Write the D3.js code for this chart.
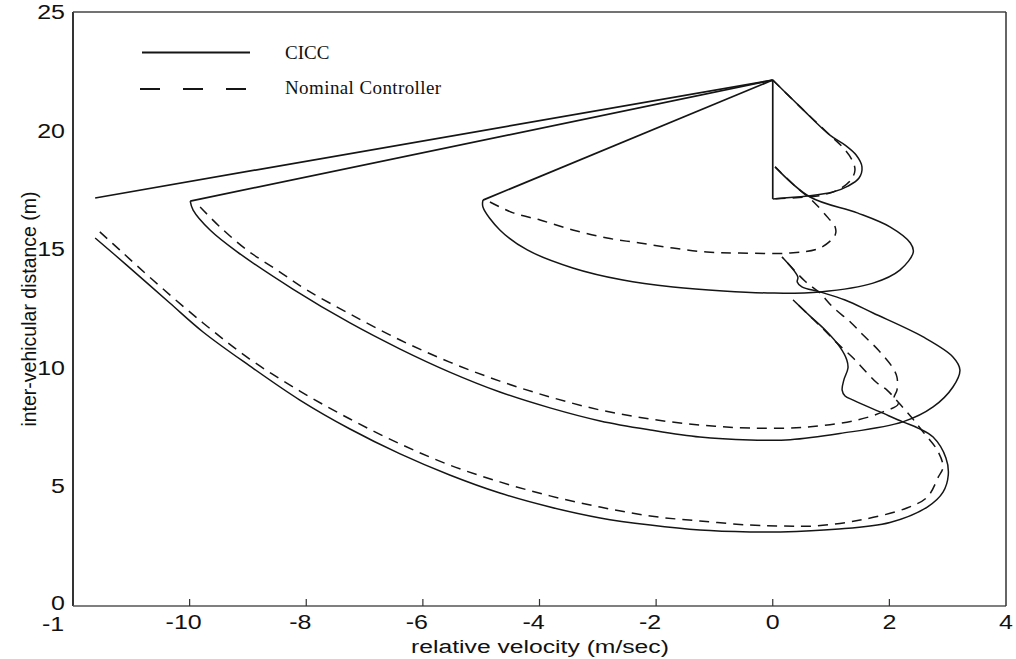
<!DOCTYPE html>
<html>
<head>
<meta charset="utf-8">
<script src="https://cdn.jsdelivr.net/npm/d3@7"></script>
<style>
  html, body { margin: 0; padding: 0; background: #fff; }
  svg { display: block; }
</style>
</head>
<body>
<svg id="chart" width="1016" height="659"></svg>
<script>
// Axis ticks and labels
const xTicks = [-12, -10, -8, -6, -4, -2, 0, 2, 4];
const xTickLabels = ["-1", "-10", "-8", "-6", "-4", "-2", "0", "2", "4"];
const yTicks = [0, 5, 10, 15, 20, 25];
const yTickLabels = ["0", "5", "10", "15", "20", "25"];
const seriesNames = ["CICC", "Nominal Controller"];

// Common starting state [relative velocity, distance] and the ends of the straight approach segments
const startPoint = [0, 22.13];
const approachEnds = [[-11.62, 17.16], [-9.99, 17.03], [-4.97, 17.07], [0, 17.12]];

// CICC trajectories (relative velocity m/s, distance m)
const ciccRunA = [[-11.62,15.47],[-11.08,14.33],[-10.34,12.73],[-9.77,11.51],[-8.97,10.08],[-8.11,8.64],[-7.25,7.42],[-6.39,6.37],[-5.54,5.48],[-4.68,4.72],[-3.82,4.13],[-2.96,3.67],[-2.10,3.37],[-1.25,3.16],[-0.39,3.08],[0.13,3.08],[1.07,3.19],[2.01,3.48],[2.65,4.13],[2.92,4.76],[3.01,5.48],[2.97,6.20],[2.75,7.08],[2.49,7.46],[2.23,7.72],[1.84,8.14],[1.53,8.47],[1.38,8.64],[1.24,8.81],[1.19,9.06],[1.22,9.49],[1.29,9.99],[1.27,10.33],[1.15,10.88],[0.90,11.59],[0.64,12.18],[0.35,12.86]];
const ciccRunB = [[-9.99,17.03],[-9.94,16.65],[-9.65,15.81],[-9.19,14.90],[-8.23,13.32],[-7.25,11.89],[-6.39,10.79],[-5.54,9.82],[-4.68,8.98],[-3.82,8.31],[-2.96,7.76],[-2.10,7.38],[-1.25,7.08],[-0.39,6.96],[0.30,6.97],[1.15,7.23],[2.23,7.72],[2.75,8.35],[3.09,9.19],[3.21,9.91],[3.09,10.46],[2.58,11.30],[1.72,12.31],[1.24,12.86],[0.81,13.20],[0.50,13.41],[0.42,13.62],[0.43,13.83],[0.16,14.67]];
const ciccRunC = [[-4.97,17.07],[-4.97,16.78],[-4.68,15.81],[-4.21,14.97],[-3.43,14.21],[-2.57,13.70],[-1.71,13.41],[-0.85,13.24],[0.00,13.15],[0.81,13.20],[1.72,13.57],[2.18,14.12],[2.41,14.88],[2.36,15.26],[2.01,15.94],[1.45,16.53],[0.64,17.20],[0.04,18.47]];
const ciccRunD = [[0,22.13],[0.47,21.00],[0.98,19.81],[1.24,19.39],[1.43,18.97],[1.53,18.47],[1.48,18.00],[1.29,17.66],[1.03,17.41],[0.59,17.24],[0,17.12]];

// Nominal controller trajectories
const nominalRunA = [[-11.54,15.73],[-11.20,14.97],[-10.63,13.70],[-9.77,11.89],[-8.97,10.37],[-8.11,9.02],[-7.25,7.84],[-6.39,6.79],[-5.54,5.90],[-4.68,5.19],[-3.82,4.60],[-2.96,4.13],[-2.10,3.75],[-1.25,3.54],[-0.39,3.37],[0.18,3.33],[0.69,3.33],[1.50,3.58],[2.30,4.09],[2.65,4.55],[2.84,5.40],[2.92,5.82],[2.82,6.53],[2.58,7.29],[2.39,7.88],[2.18,8.47],[1.96,9.06],[1.79,9.36],[1.62,9.78],[1.38,10.41],[1.10,11.05],[0.85,11.68],[0.67,12.10],[0.35,12.86]];
const nominalRunB = [[-9.82,16.78],[-9.48,15.94],[-9.02,14.97],[-8.50,14.12],[-7.99,13.28],[-7.25,12.27],[-6.39,11.17],[-5.54,10.24],[-4.68,9.44],[-3.82,8.77],[-2.96,8.22],[-2.10,7.84],[-1.25,7.59],[-0.39,7.46],[0.59,7.50],[1.45,7.80],[1.89,8.14],[2.15,8.47],[2.08,8.73],[2.13,9.06],[2.13,9.61],[2.05,10.03],[1.81,10.75],[1.55,11.38],[1.33,11.93],[1.03,12.56],[0.81,13.15],[0.55,13.66],[0.16,14.67]];
const nominalRunC = [[-4.85,16.99],[-4.45,16.53],[-3.99,16.23],[-3.43,15.81],[-2.84,15.47],[-2.28,15.26],[-1.71,15.05],[-1.13,14.88],[-0.56,14.84],[0.30,14.84],[0.81,15.05],[1.07,15.60],[1.07,15.94],[0.95,16.32],[0.67,17.07],[0.42,17.58],[0.04,18.47]];
const nominalRunD = [[0,22.13],[0.47,21.00],[0.98,19.81],[1.21,19.27],[1.36,18.76],[1.41,18.34],[1.34,17.92],[1.15,17.54],[0.85,17.28],[0.59,17.20],[0,17.12]];

const ciccRuns = [ciccRunA, ciccRunB, ciccRunC, ciccRunD];
const nominalRuns = [nominalRunA, nominalRunB, nominalRunC, nominalRunD];

const svg = d3.select("#chart");
const plotLeft = 73, plotRight = 1006, plotTop = 12, plotBottom = 605;

const x = d3.scaleLinear().domain([-12, 4]).range([plotLeft, plotRight]);
const y = d3.scaleLinear().domain([0, 25]).range([plotBottom, plotTop]);

const ink = "#151515";
const line = d3.line()
  .x(d => x(d[0]))
  .y(d => y(d[1]))
  .curve(d3.curveCatmullRom.alpha(0.5));

// Frame
const frame = svg.append("g");
frame.append("line").attr("x1", plotLeft).attr("x2", plotLeft).attr("y1", plotTop).attr("y2", plotBottom + 1)
  .attr("stroke", "#000").attr("stroke-width", 1.6);
frame.append("line").attr("x1", plotLeft).attr("x2", plotRight).attr("y1", plotBottom + 1).attr("y2", plotBottom + 1)
  .attr("stroke", "#555").attr("stroke-width", 1.5);
frame.append("line").attr("x1", plotLeft).attr("x2", plotRight).attr("y1", plotTop).attr("y2", plotTop)
  .attr("stroke", "#444").attr("stroke-width", 1.4);
frame.append("line").attr("x1", plotRight).attr("x2", plotRight).attr("y1", plotTop).attr("y2", plotBottom + 1)
  .attr("stroke", "#333").attr("stroke-width", 1.5);

// Inward ticks on the bottom axis
frame.selectAll("line.xtick").data(xTicks.slice(1, -1)).enter().append("line")
  .attr("class", "xtick")
  .attr("x1", d => x(d)).attr("x2", d => x(d))
  .attr("y1", plotBottom + 1).attr("y2", plotBottom - 6)
  .attr("stroke", "#333").attr("stroke-width", 1.2);

// Tick labels
const tickFont = "'Liberation Sans', Arial, Helvetica, sans-serif";
const xl = svg.append("g").attr("font-family", tickFont).attr("font-size", 20).attr("fill", "#111");
xTicks.forEach((t, i) => {
  const lbl = xTickLabels[i];
  let px = x(t);
  if (i === 0) px = 53;
  else if (lbl.startsWith("-")) px -= 6;
  xl.append("text")
    .attr("transform", `translate(${px},${i === 0 ? 631 : 629}) scale(1.25,1)`)
    .attr("text-anchor", "middle")
    .text(lbl);
});
const yl = svg.append("g").attr("font-family", tickFont).attr("font-size", 20).attr("fill", "#111");
yTicks.forEach((t, i) => {
  yl.append("text")
    .attr("transform", `translate(65,${y(t) + (t === 0 ? 5 : 7)}) scale(1.25,1)`)
    .attr("text-anchor", "end")
    .text(yTickLabels[i]);
});

// Axis titles
svg.append("text")
  .attr("transform", "translate(540,653) scale(1.3,1)")
  .attr("text-anchor", "middle")
  .attr("font-family", tickFont).attr("font-size", 19).attr("fill", "#111")
  .text("relative velocity (m/sec)");
svg.append("text")
  .attr("transform", "translate(36,309) rotate(-90)")
  .attr("text-anchor", "middle")
  .attr("font-family", tickFont).attr("font-size", 19.5).attr("fill", "#111")
  .text("inter-vehicular distance (m)");

// Straight approach segments from the common start
const plot = svg.append("g");
plot.selectAll("line.approach").data(approachEnds).enter().append("line")
  .attr("class", "approach")
  .attr("x1", x(startPoint[0])).attr("y1", y(startPoint[1]))
  .attr("x2", d => x(d[0])).attr("y2", d => y(d[1]))
  .attr("stroke", ink).attr("stroke-width", 1.7);

// Nominal controller (dashed)
plot.selectAll("path.nominal").data(nominalRuns).enter().append("path")
  .attr("class", "nominal")
  .attr("d", line)
  .attr("fill", "none").attr("stroke", ink).attr("stroke-width", 1.5)
  .attr("stroke-dasharray", "10,7");

// CICC (solid)
plot.selectAll("path.cicc").data(ciccRuns).enter().append("path")
  .attr("class", "cicc")
  .attr("d", line)
  .attr("fill", "none").attr("stroke", ink).attr("stroke-width", 1.5);

// Legend
const legend = svg.append("g").attr("font-family", "'Liberation Serif', 'Times New Roman', serif")
  .attr("font-size", 19).attr("fill", "#111");
legend.append("line").attr("x1", 142).attr("x2", 250).attr("y1", 52.5).attr("y2", 52.5)
  .attr("stroke", ink).attr("stroke-width", 2.2);
legend.append("text").attr("x", 285).attr("y", 58.5).text(seriesNames[0]);
legend.append("line").attr("x1", 140).attr("x2", 247).attr("y1", 89).attr("y2", 89)
  .attr("stroke", ink).attr("stroke-width", 2.2).attr("stroke-dasharray", "20,23");
legend.append("text").attr("x", 285).attr("y", 94).attr("letter-spacing", 0.4).text(seriesNames[1]);
</script>
</body>
</html>
